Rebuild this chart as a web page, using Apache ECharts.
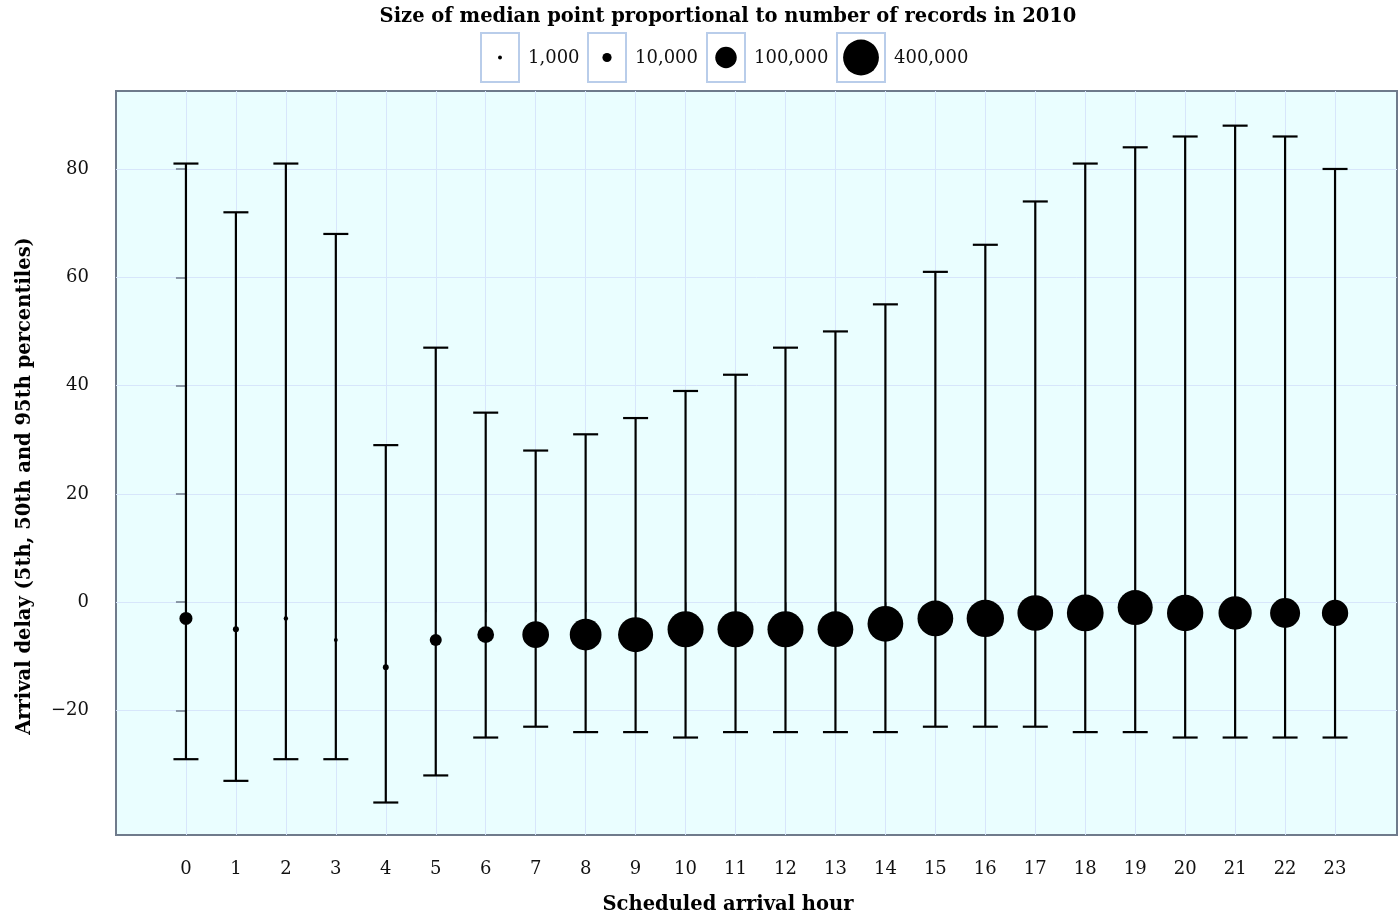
<!DOCTYPE html>
<html>
<head>
<meta charset="utf-8">
<script src="https://cdn.jsdelivr.net/npm/echarts@6/dist/echarts.min.js"></script>
<style>
html,body{margin:0;padding:0;background:#fff;}
#chart{width:1398px;height:920px;}
</style>
</head>
<body>
<div id="chart"></div>
<script>
// ---- data ----
const hours = [0,1,2,3,4,5,6,7,8,9,10,11,12,13,14,15,16,17,18,19,20,21,22,23];
const p05 = [-29,-33,-29,-29,-37,-32,-25,-23,-24,-24,-25,-24,-24,-24,-24,-23,-23,-23,-24,-24,-25,-25,-25,-25];
const p50 = [-3,-5,-3,-7,-12,-7,-6,-6,-6,-6,-5,-5,-5,-5,-4,-3,-3,-2,-2,-1,-2,-2,-2,-2];
const p95 = [81,72,81,68,29,47,35,28,31,34,39,42,47,50,55,61,66,74,81,84,86,88,86,80];
const records = [26000,3200,1400,1000,3000,21000,51000,180000,288000,377000,406000,406000,406000,397000,397000,397000,447000,397000,428000,377000,416000,328000,248000,174000];
const legendCounts = [1000,10000,100000,400000];
const legendLabels = ['1,000','10,000','100,000','400,000'];
const yTicks = [-20,0,20,40,60,80];

const FONT = 'DejaVu Serif';
function sizeOf(n){ return 0.303 * Math.pow(n, 0.37); }

const chart = echarts.init(document.getElementById('chart'));

// legend graphics
const boxX = [481,588,707,837];
const boxW = [38,38,38,48];
const legendGraphics = [];
legendCounts.forEach((c,i)=>{
  legendGraphics.push({type:'rect', shape:{x:boxX[i], y:33, width:boxW[i], height:49},
    style:{fill:'#fff', stroke:'#b9cdea', lineWidth:2}});
  legendGraphics.push({type:'circle', shape:{cx:boxX[i]+boxW[i]/2, cy:57.5, r:sizeOf(c)/2},
    style:{fill:'#000'}});
  legendGraphics.push({type:'text', x:boxX[i]+boxW[i]+9, y:58,
    style:{text:legendLabels[i], font:'18px "'+FONT+'"', fill:'#111', verticalAlign:'middle', align:'left'}});
});

const option = {
  animation:false,
  backgroundColor:'#fff',
  graphic:[
    {type:'text', x:728, y:17, style:{text:'Size of median point proportional to number of records in 2010',
      font:'bold 19.5px "'+FONT+'"', fill:'#000', align:'center', verticalAlign:'middle'}},
    ...legendGraphics,
    {type:'text', x:728, y:905, style:{text:'Scheduled arrival hour',
      font:'bold 19.5px "'+FONT+'"', fill:'#000', align:'center', verticalAlign:'middle'}},
    {type:'text', x:25, y:486, rotation:Math.PI/2, style:{text:'Arrival delay (5th, 50th and 95th percentiles)',
      font:'bold 19.5px "'+FONT+'"', fill:'#000', align:'center', verticalAlign:'middle'}}
  ],
  grid:{left:116, top:91, right:1, bottom:85, show:true, backgroundColor:'#eafeff', borderColor:'#6f7b8c', borderWidth:2},
  xAxis:{
    type:'value', min:-1.4, max:24.24,
    axisLine:{show:false},
    axisTick:{show:true, length:10, customValues:hours, lineStyle:{color:'#6f7b8c', width:1.5}},
    axisLabel:{customValues:hours, margin:25, fontFamily:FONT, fontSize:18, color:'#111'},
    splitLine:{show:true, lineStyle:{color:'#d7e6fb', width:1}}
  },
  yAxis:{
    type:'value', min:-43, max:94.4,
    axisLine:{show:false},
    axisTick:{show:true, length:10, customValues:yTicks, lineStyle:{color:'#6f7b8c', width:1.5}},
    axisLabel:{customValues:yTicks, margin:27, fontFamily:FONT, fontSize:18, color:'#111',
      formatter:v=> v<0 ? '\u2212'+Math.abs(v) : String(v)},
    splitLine:{show:true, lineStyle:{color:'#d7e6fb', width:1}}
  },
  series:[
    {
      type:'custom', z:2,
      data: hours.map((h,i)=>[h,p05[i],p95[i]]),
      encode:{x:0, y:[1,2]},
      renderItem:(params, api)=>{
        const x = api.value(0);
        const lo = api.coord([x, api.value(1)]);
        const hi = api.coord([x, api.value(2)]);
        const hw = 12.5;
        const st = {stroke:'#000', lineWidth:2.2};
        return {type:'group', children:[
          {type:'line', shape:{x1:lo[0], y1:lo[1], x2:hi[0], y2:hi[1]}, style:st},
          {type:'line', shape:{x1:lo[0]-hw, y1:lo[1], x2:lo[0]+hw, y2:lo[1]}, style:st},
          {type:'line', shape:{x1:hi[0]-hw, y1:hi[1], x2:hi[0]+hw, y2:hi[1]}, style:st}
        ]};
      }
    },
    {
      type:'scatter', z:3,
      data: hours.map((h,i)=>[h,p50[i],records[i]]),
      symbol:'circle',
      symbolSize:(v)=>sizeOf(v[2]),
      itemStyle:{color:'#000', opacity:1}
    }
  ]
};
chart.setOption(option);
</script>
</body>
</html>
